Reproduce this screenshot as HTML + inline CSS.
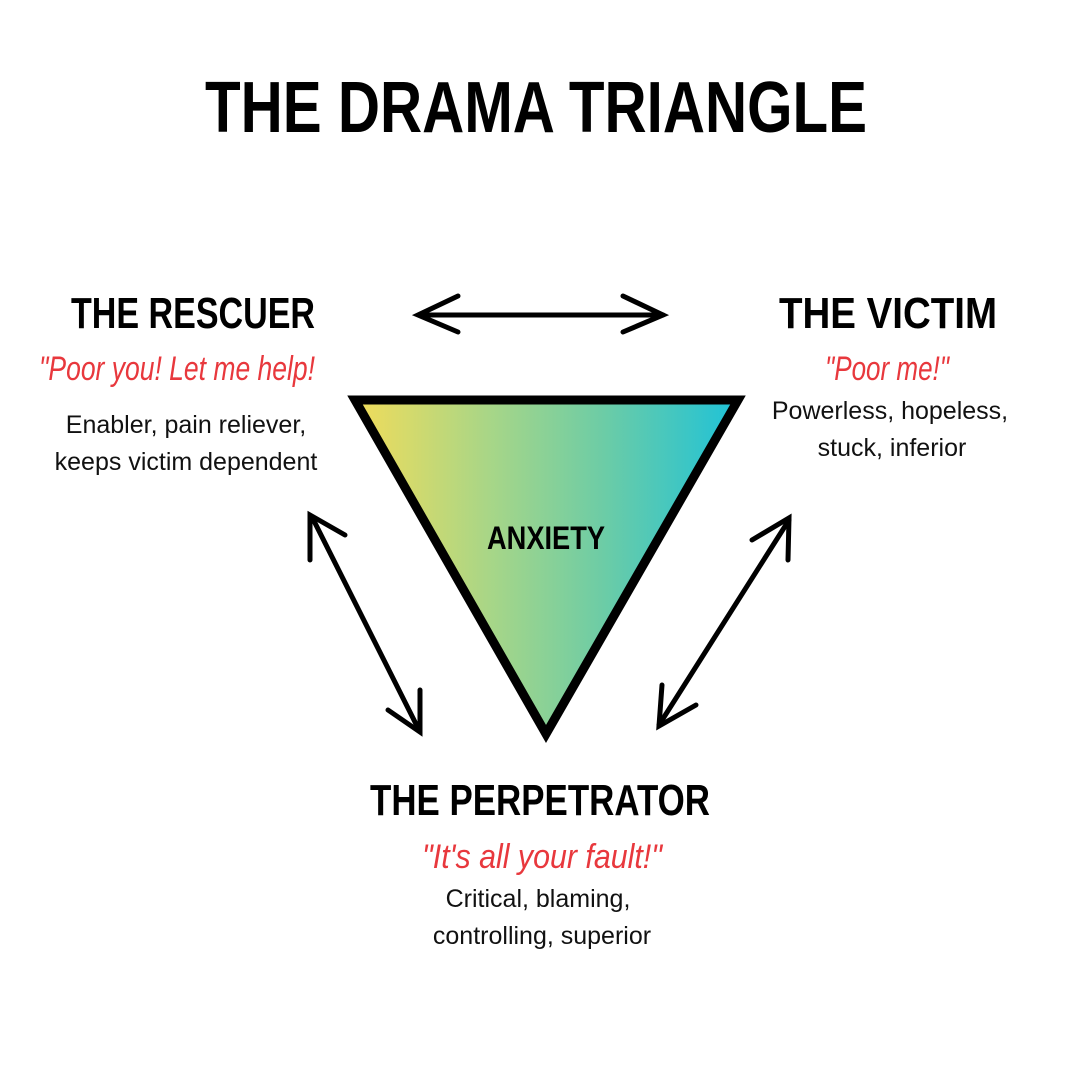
<!DOCTYPE html>
<html><head><meta charset="utf-8"><style>
html,body{margin:0;padding:0;background:#fff}
svg{display:block}
</style></head><body>
<svg width="1080" height="1080" viewBox="0 0 1080 1080" xmlns="http://www.w3.org/2000/svg">
<defs>
<linearGradient id="g" x1="0" x2="1" y1="0" y2="0">
<stop offset="0" stop-color="#f1dc5a"/>
<stop offset="0.35" stop-color="#a8d687"/>
<stop offset="0.65" stop-color="#6ccca6"/>
<stop offset="1" stop-color="#1ec2d8"/>
</linearGradient>
</defs>
<g font-family="'Liberation Sans Narrow','Liberation Sans',sans-serif" font-weight="bold" fill="#000">
<text x="536" y="132" font-size="72" text-anchor="middle" textLength="662" lengthAdjust="spacingAndGlyphs">THE DRAMA TRIANGLE</text>
<text x="193" y="328" font-size="44" text-anchor="middle" textLength="244" lengthAdjust="spacingAndGlyphs">THE RESCUER</text>
<text x="888" y="328" font-size="44" text-anchor="middle" textLength="218" lengthAdjust="spacingAndGlyphs">THE VICTIM</text>
<text x="540" y="815" font-size="44" text-anchor="middle" textLength="340" lengthAdjust="spacingAndGlyphs">THE PERPETRATOR</text>
</g>
<g font-family="'Liberation Sans Narrow','Liberation Sans',sans-serif" font-style="italic" fill="#e8383d" font-size="34">
<text x="177" y="380" text-anchor="middle" textLength="276" lengthAdjust="spacingAndGlyphs">"Poor you! Let me help!</text>
<text x="887" y="380" text-anchor="middle" textLength="124" lengthAdjust="spacingAndGlyphs">"Poor me!"</text>
<text x="542" y="868" text-anchor="middle" textLength="240" lengthAdjust="spacingAndGlyphs">"It's all your fault!"</text>
</g>
<g font-family="'Liberation Sans',sans-serif" fill="#111" font-size="25" text-anchor="middle">
<text x="186" y="433">Enabler, pain reliever,</text>
<text x="186" y="470">keeps victim dependent</text>
<text x="890" y="419">Powerless, hopeless,</text>
<text x="892" y="456">stuck, inferior</text>
<text x="538" y="907">Critical, blaming,</text>
<text x="542" y="944">controlling, superior</text>
</g>
<polygon points="355,400 738,400 546,734" fill="url(#g)" stroke="#000" stroke-width="9" stroke-linejoin="miter"/>
<text x="546" y="549" font-family="'Liberation Sans Narrow','Liberation Sans',sans-serif" font-weight="bold" font-size="32" text-anchor="middle" textLength="118" lengthAdjust="spacingAndGlyphs">ANXIETY</text>
<g stroke="#000" stroke-width="5" stroke-linecap="round" fill="none">
<line x1="420" y1="315" x2="663" y2="315"/>
<polyline points="458,296 418,315 458,332"/>
<polyline points="623,296 663,315 623,332"/>
<line x1="312" y1="517" x2="419" y2="730"/>
<polyline points="310,560 310,515 345,535"/>
<polyline points="388,710 420,732 420,690"/>
<line x1="789" y1="520" x2="659" y2="725"/>
<polyline points="752,540 789,518 788,560"/>
<polyline points="662,685 659,726 696,705"/>
</g>
</svg>
</body></html>
